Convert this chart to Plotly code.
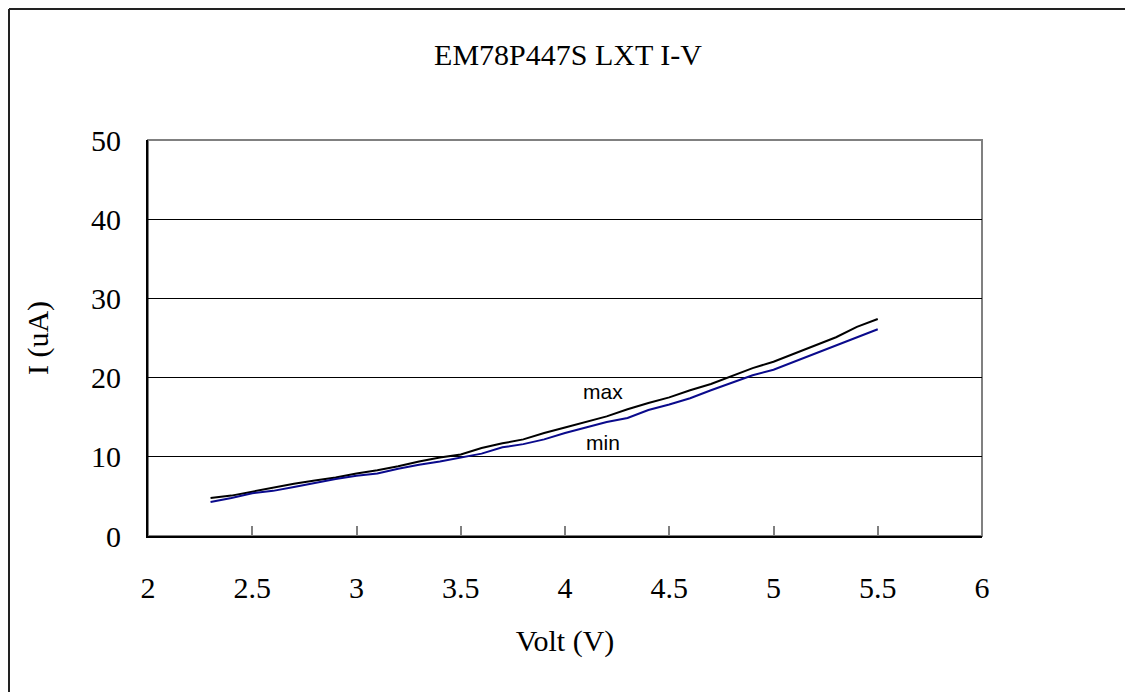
import plotly.graph_objects as go

volt = [2.3, 2.4, 2.5, 2.6, 2.7, 2.8, 2.9, 3.0, 3.1, 3.2, 3.3, 3.4, 3.5, 3.6, 3.7, 3.8, 3.9,
        4.0, 4.1, 4.2, 4.3, 4.4, 4.5, 4.6, 4.7, 4.8, 4.9, 5.0, 5.1, 5.2, 5.3, 5.4, 5.5]
i_max = [4.8, 5.1, 5.6, 6.1, 6.6, 7.0, 7.4, 7.9, 8.3, 8.8, 9.4, 9.9, 10.3, 11.1, 11.7, 12.2, 13.0,
         13.7, 14.4, 15.1, 16.0, 16.8, 17.5, 18.4, 19.2, 20.2, 21.2, 22.0, 23.0, 24.0, 25.1, 26.4, 27.4]
i_min = [4.3, 4.8, 5.4, 5.7, 6.2, 6.7, 7.2, 7.6, 7.9, 8.5, 9.0, 9.4, 9.9, 10.4, 11.2, 11.6, 12.2,
         13.0, 13.7, 14.4, 14.9, 15.9, 16.6, 17.4, 18.4, 19.3, 20.3, 21.0, 22.0, 23.0, 24.0, 25.1, 26.1]
x_ticks = [2, 2.5, 3, 3.5, 4, 4.5, 5, 5.5, 6]
y_ticks = [0, 10, 20, 30, 40, 50]
labels = [("max", 4.18, 18.2), ("min", 4.18, 11.8)]

serif = "Liberation Serif, Times New Roman, serif"
W, H = 1125, 684
L, T, PW, PH = 140, 132, 834, 396

fig = go.Figure()
fig.add_trace(go.Scatter(x=volt, y=i_max, mode="lines", name="max",
                         line=dict(color="#000000", width=2)))
fig.add_trace(go.Scatter(x=volt, y=i_min, mode="lines", name="min",
                         line=dict(color="#0a0a8c", width=2)))

for txt, lx, ly in labels:
    fig.add_annotation(x=lx, y=ly, text=txt, showarrow=False,
                       font=dict(family="Liberation Sans, Arial, sans-serif", size=21, color="#000"))

# plot-area border (gray)
fig.add_shape(type="rect", xref="paper", yref="paper", x0=0, y0=0, x1=1, y1=1,
              line=dict(color="#808080", width=2), layer="below")
# outer chart frame: only left and top edges are visible
fx0 = (1 - L) / PW
fy1 = (T + PH - 1) / PH
fig.add_shape(type="line", xref="paper", yref="paper", x0=fx0, y0=-0.8, x1=fx0, y1=fy1,
              line=dict(color="#222222", width=2), layer="below")
fig.add_shape(type="line", xref="paper", yref="paper", x0=fx0, y0=fy1, x1=1.6, y1=fy1,
              line=dict(color="#222222", width=2), layer="below")

fig.update_layout(
    width=W, height=H,
    margin=dict(l=L, r=W - L - PW, t=T, b=H - T - PH),
    paper_bgcolor="white", plot_bgcolor="white",
    showlegend=False,
    title=dict(text="EM78P447S LXT I-V", x=(L + PW / 2 + 3) / W, xanchor="center",
               y=1 - 46 / H, yanchor="middle",
               font=dict(family=serif, size=30, color="#000")),
    font=dict(family=serif, size=30, color="#000"),
    xaxis=dict(range=[2, 6], tickvals=x_ticks, ticktext=[f"{v:g}" for v in x_ticks],
               showgrid=False, zeroline=False, showline=True, linecolor="#000", linewidth=2,
               ticks="inside", ticklen=10, tickwidth=2, tickcolor="#808080",
               ticklabelstandoff=24,
               title=dict(text="Volt (V)", standoff=27, font=dict(family=serif, size=30))),
    yaxis=dict(range=[0, 50], tickvals=y_ticks, ticktext=[str(v) for v in y_ticks],
               showgrid=True, gridcolor="#000", gridwidth=1, zeroline=False,
               showline=True, linecolor="#000", linewidth=2, ticks="",
               ticklabelstandoff=19,
               title=dict(text="I (uA)", standoff=34, font=dict(family=serif, size=30))),
)

fig.write_html("out.html")
